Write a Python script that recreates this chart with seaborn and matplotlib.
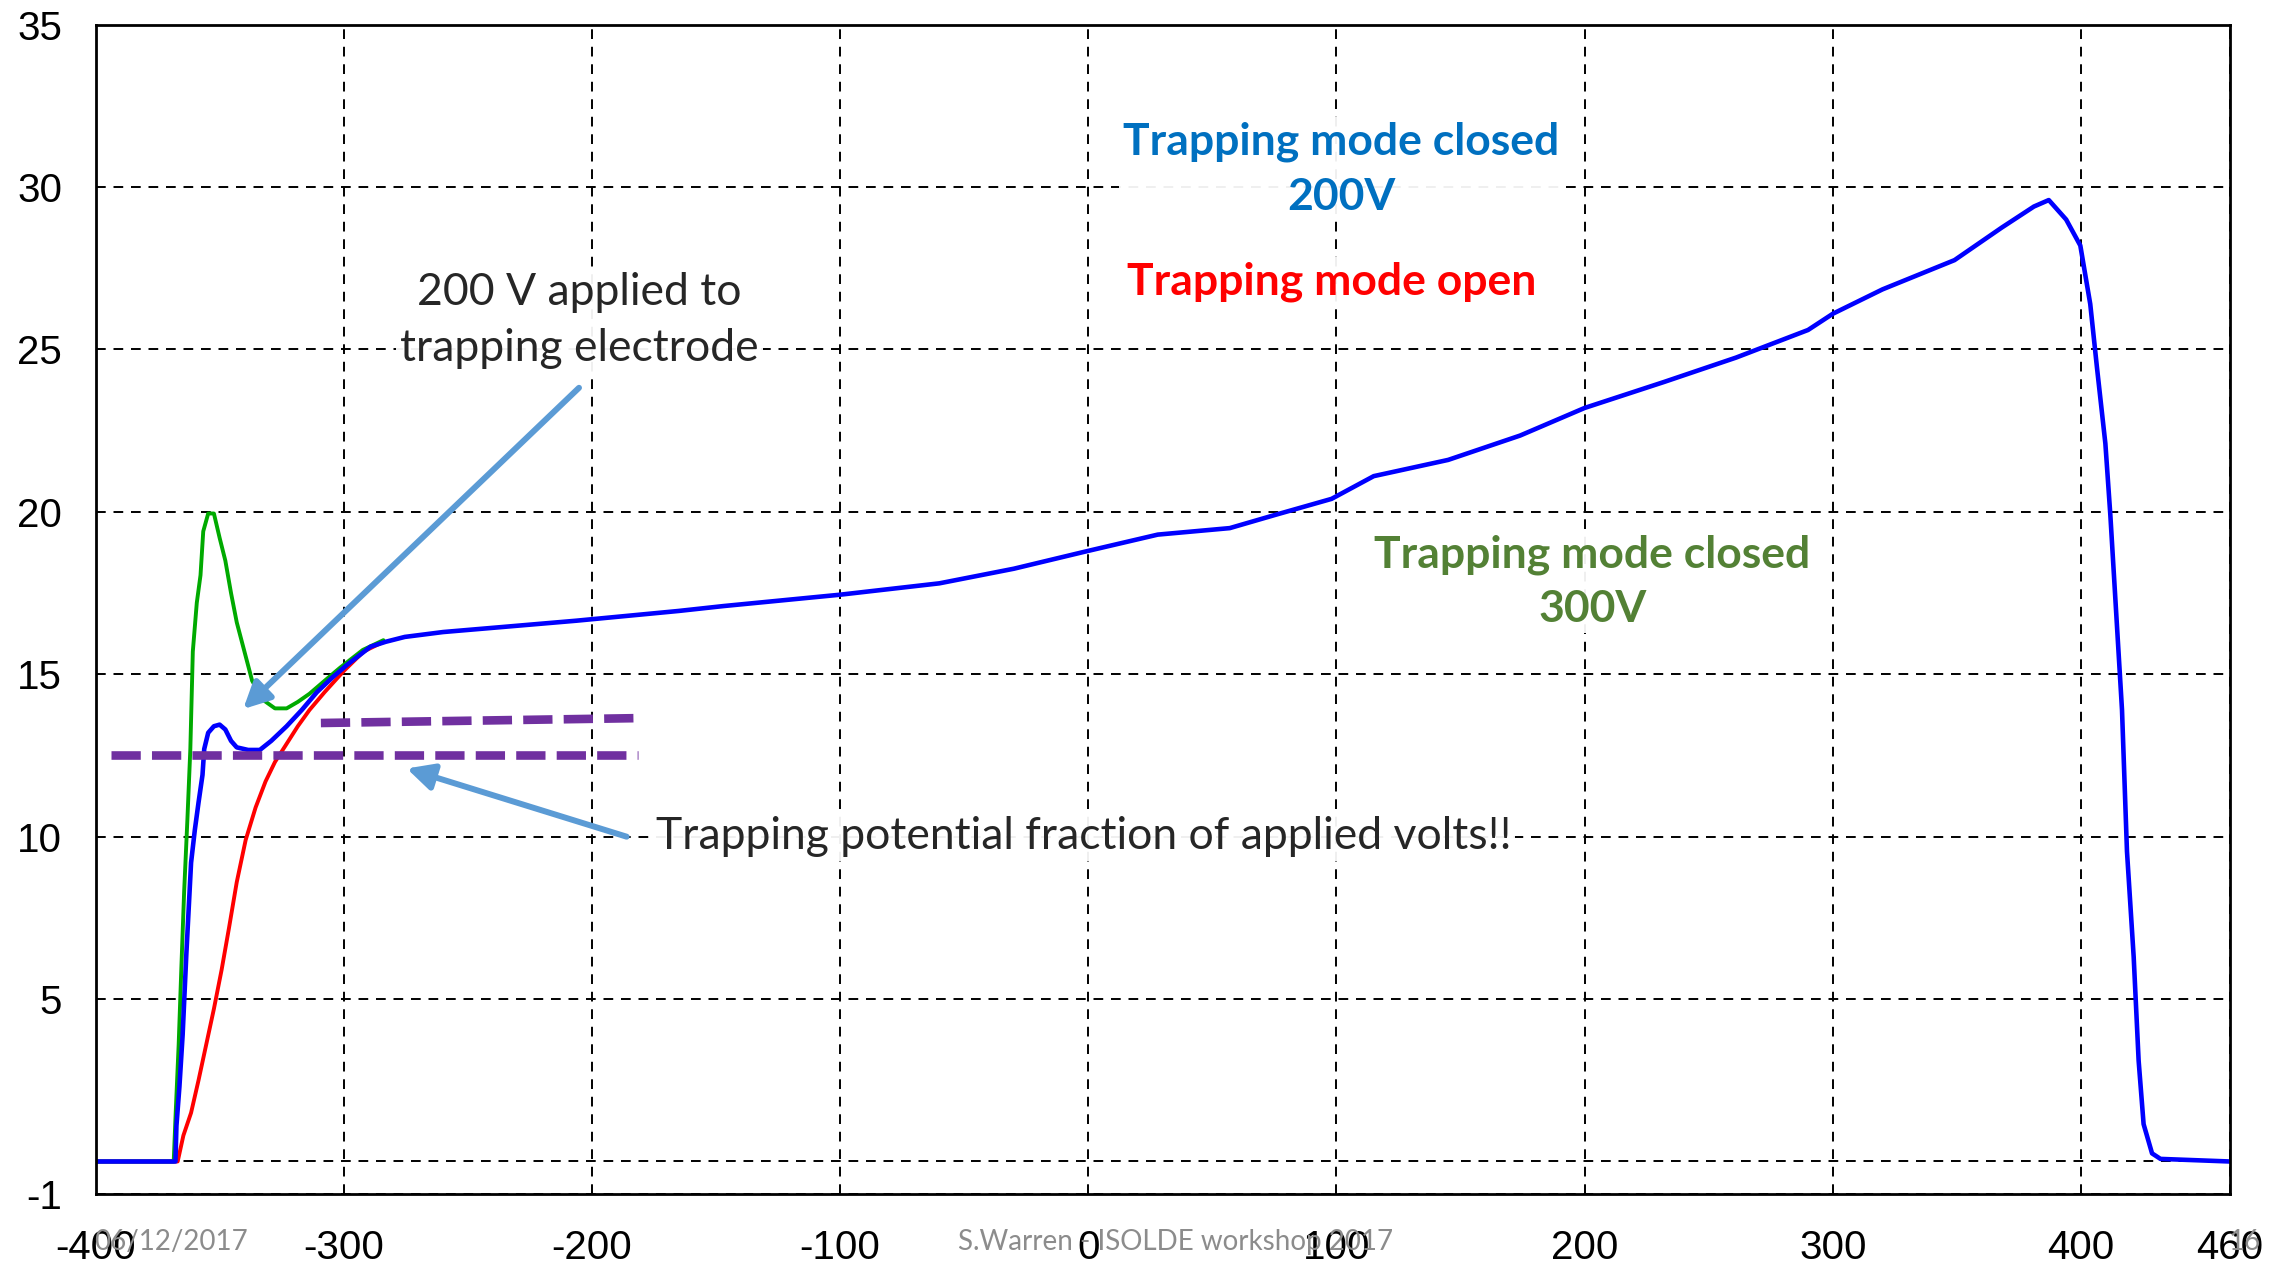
import matplotlib
matplotlib.use("Agg")
import matplotlib.pyplot as plt
import seaborn as sns

# Messkurven (x in Zeitschritten, y in Volt)
blue_x = [-400, -367.8, -367.4, -366.2, -364.9, -363.4, -361.5, -360, -358.5, -356.9, -356.2,
          -354.6, -352.3, -350, -347.7, -345.4, -343.1, -338.5, -333.8, -329.2, -323, -316.9,
          -310.8, -304.6, -298.5, -289.2, -283.1, -275.4, -260, -236.9, -206.2, -165, -147,
          -100, -60, -30, 0, 28, 57, 75, 98, 115, 145, 174, 200, 232, 261, 290, 300, 320,
          349, 368, 381, 387, 394, 399.7, 403.7, 406.4, 409.8, 411.8, 414.5, 416.5, 418.5,
          421.2, 423.2, 425.2, 428.6, 432, 460]
blue_y = [0, 0, 1.1, 2.3, 3.9, 6.4, 9.2, 10.2, 11.05, 11.9, 12.7,
          13.2, 13.4, 13.45, 13.3, 12.95, 12.75, 12.67, 12.67, 12.95, 13.4, 13.9,
          14.45, 14.9, 15.3, 15.85, 16.0, 16.15, 16.3, 16.45, 16.65, 16.95, 17.1,
          17.45, 17.8, 18.25, 18.8, 19.3, 19.5, 19.9, 20.4, 21.1, 21.6, 22.35, 23.2, 24.0, 24.75, 25.6, 26.1, 26.85,
          27.75, 28.75, 29.4, 29.6, 29.0, 28.2, 26.4, 24.45, 22.1, 19.9, 16.45, 13.9, 9.55,
          6.3, 3.1, 1.15, 0.25, 0.08, 0]

red_x = [-400, -366.9, -364.6, -361.5, -358.5, -355.4, -352.3, -349.2, -346.2, -343.1, -339.5,
         -335.5, -331.5, -327.7, -323.5, -318.5, -313.8, -307.7, -300, -292, -284]
red_y = [0, 0, 0.8, 1.5, 2.5, 3.6, 4.7, 5.9, 7.2, 8.6, 9.9,
         10.9, 11.7, 12.3, 12.8, 13.4, 13.9, 14.45, 15.1, 15.7, 16.0]

green_x = [-400, -368.5, -367.7, -366.5, -365.4, -364.3, -363, -361.8, -360.8, -359.2, -357.7,
           -356.6, -354.6, -352.3, -350, -347.7, -345.4, -343.1, -340, -336.9, -332.3, -327.7,
           -323, -318.5, -313.8, -307.7, -301.5, -292.3, -284]
green_y = [0, 0, 1.5, 3.6, 6.0, 8.3, 10.5, 12.7, 15.7, 17.2, 18.05,
           19.4, 19.95, 19.95, 19.2, 18.5, 17.5, 16.6, 15.7, 14.8, 14.2, 13.95,
           13.95, 14.15, 14.4, 14.8, 15.2, 15.75, 16.05]

# Hilfslinien (Fallenpotential)
trap_low_x = [-393.8, -181.5]
trap_low_y = [12.5, 12.5]
trap_high_x = [-309.2, -181.5]
trap_high_y = [13.5, 13.65]

x_ticks = [-400, -300, -200, -100, 0, 100, 200, 300, 400, 460]
y_ticks = [-1, 0, 5, 10, 15, 20, 25, 30, 35]
y_labels = ["-1", "", "5", "10", "15", "20", "25", "30", "35"]

sns.set_style("white")
plt.rcParams["font.family"] = ["Liberation Sans", "DejaVu Sans"]
plt.rcParams["axes.unicode_minus"] = False

fig = plt.figure(figsize=(22.69, 12.71), dpi=100)
ax = fig.add_axes([0.0421, 0.0606, 0.9407, 0.92])

sns.lineplot(x=red_x, y=red_y, ax=ax, color="#ff0000", linewidth=2.8, estimator=None, sort=False)
sns.lineplot(x=green_x, y=green_y, ax=ax, color="#00aa00", linewidth=2.8, estimator=None, sort=False)
sns.lineplot(x=blue_x, y=blue_y, ax=ax, color="#0000ff", linewidth=3.3, estimator=None, sort=False)
for px, py in [(trap_low_x, trap_low_y), (trap_high_x, trap_high_y)]:
    sns.lineplot(x=px, y=py, ax=ax, color="#7030a0", linewidth=6.2,
                 linestyle=(0, (3.4, 1.3)), estimator=None, sort=False)

ax.set_xlim(-400, 460)
ax.set_ylim(-1, 35)
ax.set_xticks(x_ticks)
ax.set_yticks(y_ticks)
ax.set_yticklabels(y_labels)
ax.set_xlabel("")
ax.set_ylabel("")
ax.set_axisbelow(True)
ax.grid(True, color="black", linestyle=(0, (5, 4)), linewidth=1.4)
for sp in ax.spines.values():
    sp.set_color("black")
    sp.set_linewidth(2)
ax.tick_params(axis="both", direction="out", length=9, width=1.5, color="black",
               labelsize=29, labelcolor="black")
ax.tick_params(axis="x", pad=16)
ax.tick_params(axis="y", pad=15)

txt_font = ["Lato", "DejaVu Sans"]
box = dict(facecolor="white", edgecolor="none", alpha=0.94, pad=3)

ax.text(-205, 25.9, "200 V applied to\ntrapping electrode", ha="center", va="center",
        fontsize=32, family=txt_font, linespacing=1.45, bbox=box, zorder=5)
ax.text(-174.3, 10.0, "Trapping potential fraction of applied volts!!", ha="left", va="center",
        fontsize=32, family=txt_font, bbox=box, zorder=5)
ax.text(102, 30.55, "Trapping mode closed\n200V", ha="center", va="center", color="#0070c0",
        fontsize=32, fontweight="bold", family=txt_font, linespacing=1.45, bbox=box, zorder=5)
ax.text(98, 27.1, "Trapping mode open", ha="center", va="center", color="#ff0000",
        fontsize=32, fontweight="bold", family=txt_font, bbox=box, zorder=5)
ax.text(203, 17.85, "Trapping mode closed\n300V", ha="center", va="center", color="#538135",
        fontsize=32, fontweight="bold", family=txt_font, linespacing=1.45, bbox=box, zorder=5)

arrow = dict(arrowstyle="-|>", color="#5b9bd5", lw=4.3, mutation_scale=40, shrinkA=0, shrinkB=0)
ax.annotate("", xy=(-340.5, 13.93), xytext=(-205.2, 23.82), arrowprops=arrow, zorder=6)
ax.annotate("", xy=(-274.6, 12.1), xytext=(-186, 10.0), arrowprops=arrow, zorder=6)

foot = dict(color="#8c8c8c", fontsize=20, family=txt_font, va="center")
fig.text(0.0414, 0.0232, "06/12/2017", ha="left", **foot)
fig.text(0.518, 0.0232, "S.Warren - ISOLDE workshop 2017", ha="center", **foot)
fig.text(0.9894, 0.0232, "16", ha="center", **foot)

fig.savefig("out.png", dpi=100)
